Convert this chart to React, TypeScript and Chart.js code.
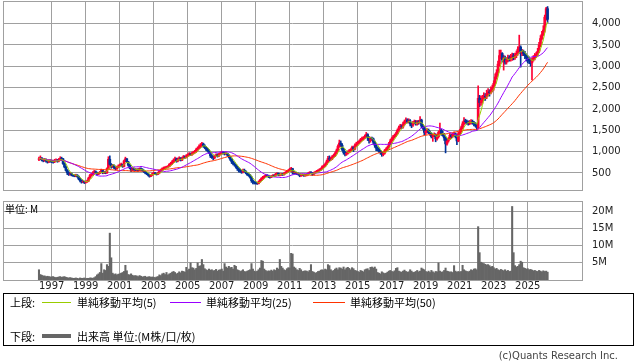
import { useEffect, useRef } from "react";
import { Chart, registerables } from "chart.js";

Chart.register(...registerables);

// Monthly candles, first month = April 1996 (months counted from Jan 1996)
const FIRST_MONTH_INDEX = 3;
const FIRST_OPEN = 820;

const closes = [
  830, 850, 800, 790, 810, 780, 760, 790, 780,
  770, 760, 790, 800, 780, 810, 840, 830, 720, 640, 560, 500,
  470, 480, 450, 440, 430, 450, 420, 360, 320, 290, 300, 280,
  290, 310, 380, 440, 460, 500, 530, 510, 470, 490, 520, 560,
  500, 520, 500, 600, 820, 700, 640, 680, 620, 600, 640, 660,
  680, 700, 650, 780, 830, 760, 680, 620, 560, 600, 580, 570,
  580, 560, 600, 580, 560, 530, 500, 480, 450, 420, 450, 480,
  500, 480, 470, 500, 540, 570, 600, 610, 630, 640, 650, 700,
  720, 760, 800, 830, 780, 820, 850, 800, 840, 880, 860, 900,
  920, 950, 930, 960, 980, 1000, 1050, 1080, 1120, 1150, 1180, 1130,
  1100, 1050, 1020, 980, 900, 880, 860, 900, 920, 900, 940, 960,
  980, 970, 950, 960, 920, 880, 820, 760, 720, 690, 640, 600,
  560, 540, 520, 560, 540, 500, 460, 450, 400, 320, 280, 270,
  260, 250, 290, 330, 370, 400, 420, 440, 430, 410, 400, 420,
  440, 430, 470, 490, 450, 460, 470, 460, 490, 510, 540, 560,
  590, 600, 520, 500, 490, 480, 470, 440, 450, 460, 440, 450,
  460, 490, 510, 500, 470, 500, 520, 540, 560, 570, 600, 650,
  660, 700, 760, 840, 820, 830, 880, 900, 960, 1020, 1120, 1200,
  1150, 1050, 980, 940, 960, 990, 1020, 1040, 1100, 1060, 1150, 1180,
  1200, 1240, 1280, 1300, 1320, 1360, 1400, 1320, 1260, 1310, 1300, 1220,
  1150, 1080, 1060, 1000, 980, 930, 960, 1020, 1060, 1100, 1180, 1250,
  1300, 1350, 1380, 1420, 1500, 1560, 1600, 1580, 1650, 1700, 1740, 1700,
  1720, 1650, 1620, 1680, 1700, 1650, 1700, 1680, 1740, 1600, 1560, 1450,
  1480, 1500, 1450, 1420, 1350, 1380, 1400, 1300, 1350, 1450, 1500, 1420,
  1400, 1320, 1180, 1250, 1300, 1380, 1350, 1400, 1420, 1350, 1250, 1420,
  1480, 1560, 1650, 1720, 1700, 1680, 1660, 1690, 1700, 1680, 1650, 1620,
  1560, 2250, 2150, 2200, 2250, 2300, 2280, 2350, 2400, 2380, 2450, 2500,
  2600, 2750, 2850, 3050, 3250, 3300, 3150, 3200, 3100, 3150, 3200, 3180,
  3200, 3250, 3200, 3250, 3300, 3400, 3450, 3300, 3350, 3300, 3250, 3200,
  3150, 3120, 3080, 3150, 3200, 3250, 3280, 3350, 3500, 3650, 3750, 3850,
  4150, 4350, 4100,
];

const highs = [
  870, 900, 860, 830, 840, 830, 800, 810, 810,
  800, 790, 820, 830, 820, 840, 880, 870, 840, 740, 660, 580,
  530, 510, 500, 470, 460, 470, 460, 430, 380, 340, 320, 310,
  310, 330, 400, 470, 490, 530, 560, 550, 520, 510, 540, 590,
  570, 540, 540, 620, 880, 900, 720, 700, 690, 640, 660, 690,
  710, 730, 710, 800, 870, 840, 770, 700, 640, 620, 620, 600,
  600, 600, 620, 620, 600, 570, 540, 510, 490, 460, 470, 500,
  520, 510, 490, 520, 560, 590, 620, 640, 650, 660, 670, 720,
  750, 790, 830, 870, 850, 850, 880, 860, 870, 910, 900, 930,
  950, 980, 970, 990, 1010, 1030, 1080, 1110, 1160, 1190, 1220, 1200,
  1160, 1120, 1080, 1050, 1000, 930, 900, 920, 950, 950, 960, 990,
  1010, 1000, 990, 990, 970, 930, 890, 830, 780, 740, 700, 660,
  620, 590, 560, 590, 590, 550, 510, 480, 470, 420, 340, 300,
  290, 280, 310, 350, 390, 420, 440, 470, 460, 450, 430, 440,
  460, 460, 490, 510, 500, 480, 490, 490, 510, 530, 560, 580,
  610, 630, 610, 540, 520, 510, 500, 480, 470, 480, 470, 470,
  480, 510, 530, 530, 510, 520, 540, 560, 580, 600, 620, 670,
  690, 730, 800, 890, 900, 870, 910, 940, 990, 1060, 1160, 1270,
  1250, 1190, 1080, 1010, 990, 1020, 1050, 1070, 1130, 1120, 1180, 1220,
  1240, 1270, 1310, 1340, 1350, 1390, 1450, 1420, 1350, 1340, 1340, 1320,
  1250, 1180, 1110, 1090, 1030, 1000, 990, 1050, 1090, 1130, 1220, 1290,
  1330, 1380, 1410, 1460, 1530, 1600, 1640, 1630, 1690, 1740, 1790, 1770,
  1770, 1750, 1680, 1710, 1740, 1730, 1730, 1730, 1820, 1760, 1640, 1590,
  1520, 1540, 1530, 1480, 1440, 1400, 1440, 1420, 1380, 1480, 1670, 1530,
  1480, 1430, 1350, 1280, 1330, 1420, 1410, 1430, 1460, 1440, 1370, 1450,
  1520, 1600, 1700, 1800, 1760, 1740, 1720, 1730, 1750, 1740, 1710, 1680,
  1650, 2540, 2320, 2300, 2320, 2380, 2360, 2440, 2480, 2450, 2520, 2560,
  2660, 2820, 2920, 3120, 3380, 3380, 3320, 3260, 3240, 3200, 3260, 3250,
  3280, 3310, 3300, 3310, 3360, 3460, 3730, 3480, 3400, 3380, 3350, 3290,
  3250, 3220, 3180, 3200, 3250, 3300, 3330, 3420, 3560, 3720, 3820, 3950,
  4200, 4380, 4400,
];

const lows = [
  790, 810, 780, 760, 770, 750, 730, 740, 750,
  740, 730, 740, 770, 750, 760, 790, 790, 700, 620, 540, 460,
  440, 450, 430, 420, 410, 410, 400, 340, 290, 260, 270, 250,
  260, 280, 300, 370, 420, 450, 490, 490, 450, 460, 480, 510,
  480, 480, 480, 490, 590, 680, 610, 630, 600, 570, 580, 620,
  640, 660, 630, 640, 760, 740, 660, 600, 530, 550, 560, 550,
  550, 540, 550, 560, 540, 510, 480, 460, 430, 400, 410, 440,
  470, 460, 450, 460, 490, 530, 560, 580, 590, 610, 620, 640,
  680, 700, 740, 780, 750, 760, 800, 780, 790, 830, 840, 850,
  880, 900, 910, 910, 940, 960, 980, 1030, 1060, 1090, 1120, 1100,
  1070, 1020, 990, 950, 860, 840, 810, 830, 880, 870, 880, 920,
  940, 940, 920, 930, 890, 850, 790, 720, 690, 660, 610, 560,
  520, 510, 490, 500, 520, 480, 440, 420, 380, 280, 240, 240,
  240, 230, 240, 280, 320, 360, 380, 410, 410, 390, 380, 390,
  410, 410, 420, 460, 430, 430, 440, 440, 450, 480, 500, 520,
  550, 570, 470, 480, 470, 460, 450, 410, 420, 430, 420, 420,
  430, 450, 480, 480, 440, 460, 490, 510, 530, 540, 560, 590,
  620, 640, 690, 740, 780, 790, 810, 860, 880, 940, 1000, 1100,
  1120, 1020, 940, 900, 910, 940, 970, 990, 1020, 1000, 1040, 1120,
  1150, 1180, 1220, 1250, 1270, 1300, 1340, 1260, 1200, 1220, 1260, 1180,
  1100, 1020, 1020, 980, 940, 890, 900, 940, 990, 1030, 1080, 1160,
  1220, 1270, 1320, 1350, 1400, 1480, 1530, 1540, 1550, 1620, 1680, 1670,
  1670, 1600, 1560, 1590, 1650, 1620, 1620, 1640, 1660, 1560, 1520, 1390,
  1400, 1440, 1420, 1380, 1320, 1240, 1350, 1230, 1270, 1320, 1420, 1380,
  1360, 1260, 970, 1150, 1220, 1280, 1310, 1330, 1370, 1320, 1160, 1230,
  1380, 1450, 1530, 1620, 1660, 1640, 1620, 1630, 1650, 1640, 1600, 1580,
  1500, 1540, 2050, 2080, 2130, 2200, 2200, 2240, 2300, 2300, 2350, 2400,
  2440, 2560, 2700, 2800, 3000, 3180, 3100, 2910, 3050, 3050, 3100, 3120,
  3120, 3140, 3150, 3160, 3200, 3260, 3350, 2980, 3250, 3250, 3180, 3120,
  3080, 3060, 3000, 2680, 3120, 3150, 3200, 3240, 3320, 3460, 3620, 3720,
  3800, 4080, 4020,
];

// Monthly volume, millions of shares
const volumes = [
  3.0, 1.6, 1.4, 1.2, 1.2, 1.0, 1.1, 1.0, 0.9,
  0.9, 1.0, 0.8, 0.7, 0.8, 0.9, 1.0, 0.8, 0.9, 1.0, 0.8, 0.7,
  0.6, 0.7, 0.6, 0.5, 0.5, 0.6, 0.5, 0.4, 0.6, 0.5, 0.5, 0.6,
  0.4, 0.5, 0.5, 0.6, 0.6, 0.5, 0.7, 1.0, 1.5, 1.8, 2.2, 4.8,
  2.0, 3.0, 2.8, 4.5, 4.0, 13.7, 6.5, 2.0, 1.6, 1.8, 1.5, 1.7,
  1.8, 2.0, 2.2, 2.5, 4.3, 2.7, 1.6, 1.5, 1.8, 1.4, 1.2, 1.3,
  1.2, 1.0, 1.3, 1.1, 0.9, 1.0, 1.1, 0.8, 0.9, 1.0, 0.8, 0.9,
  0.8, 0.7, 0.9, 1.0, 1.5, 1.3, 1.8, 2.0, 1.6, 2.2, 1.5, 1.8,
  2.0, 2.3, 2.5, 2.2, 1.8, 2.0, 2.4, 2.1, 2.6, 2.5, 2.3, 3.7,
  2.8, 3.2, 5.0, 3.6, 3.5, 3.0, 3.4, 5.0, 4.0, 4.2, 6.0, 4.5,
  3.3, 3.0, 2.8, 3.2, 2.9, 3.0, 2.7, 2.8, 3.1, 2.6, 2.9, 3.0,
  3.2, 2.6, 4.8, 3.8, 3.5, 4.0, 3.6, 3.7, 3.2, 4.3, 4.0, 3.0,
  2.8, 2.5, 2.7, 3.0, 2.5, 2.4, 2.6, 2.8, 3.0, 4.8, 3.2, 2.6,
  2.4, 2.6, 3.0, 3.5, 5.7, 5.5, 3.2, 2.8, 2.5, 2.7, 2.6, 2.9,
  2.6, 3.0, 2.8, 3.5, 3.2, 6.0, 4.0, 3.5, 3.0, 2.8, 3.3, 3.6,
  3.5, 7.8, 7.6, 3.8, 3.5, 3.0, 2.8, 3.4, 3.0, 2.5, 2.6, 2.7,
  2.6, 2.4, 2.8, 4.5, 2.5, 2.3, 2.0, 2.2, 2.5, 2.6, 2.9, 3.0,
  2.8, 3.2, 3.0, 4.5, 4.2, 3.0, 2.6, 2.8, 3.2, 3.5, 3.0, 3.6,
  3.5, 3.2, 3.8, 3.0, 3.5, 3.7, 3.4, 3.0, 3.6, 3.3, 2.8, 2.7,
  2.5, 2.3, 2.8, 2.6, 2.4, 3.0, 3.2, 3.3, 2.8, 3.7, 3.8, 3.5,
  3.8, 3.2, 2.2, 2.0, 1.8, 2.4, 2.1, 1.9, 2.0, 2.3, 2.6, 2.8,
  2.5, 2.4, 2.7, 3.4, 3.6, 2.6, 2.4, 2.3, 2.6, 2.9, 2.5, 2.3,
  2.4, 3.0, 2.6, 2.2, 2.3, 2.5, 2.8, 2.4, 2.6, 3.5, 3.2, 3.0,
  2.5, 2.3, 2.6, 2.2, 2.8, 2.4, 2.1, 2.5, 2.4, 5.0, 2.6, 2.3,
  2.4, 2.8, 3.5, 2.6, 2.5, 2.3, 2.4, 2.2, 4.2, 2.6, 2.3, 2.5,
  2.3, 2.5, 4.3, 3.0, 2.7, 2.5, 2.4, 2.6, 3.0, 2.8, 3.2, 3.3,
  3.0, 15.6, 8.0, 5.2, 5.0, 4.8, 4.6, 4.4, 4.5, 4.2, 3.8, 4.0,
  3.6, 3.2, 3.4, 3.0, 2.8, 3.1, 2.9, 2.7, 3.0, 2.6, 2.8, 2.5,
  2.6, 21.5, 8.0, 4.2, 3.8, 4.0, 4.5, 5.5, 5.2, 3.6, 3.4, 3.2,
  3.3, 3.0, 3.1, 2.9, 2.7, 2.8, 2.6, 2.5, 2.8, 2.6, 2.4, 2.7,
  2.5, 2.6, 2.3,
];

const yearTicks = [1997, 1999, 2001, 2003, 2005, 2007, 2009, 2011, 2013, 2015, 2017, 2019, 2021, 2023, 2025];
const priceTicks = [500, 1000, 1500, 2000, 2500, 3000, 3500, 4000];
const volumeTicks = [5, 10, 15, 20];

const UP = "#ff0033";
const DOWN = "#003399";
const GRID = "#a0a0a0";
const TICK_FONT = { family: "'DejaVu Sans', Verdana, sans-serif", size: 10 };
const X_MIN = -22.4;
const X_MAX = 386.3;

function sma(vals: number[], n: number): number[] {
  return vals.map((_, i) => {
    const s = Math.max(0, i - n + 1);
    let t = 0;
    for (let j = s; j <= i; j++) t += vals[j];
    return t / (i - s + 1);
  });
}

const framePlugin = {
  id: "frame",
  beforeDatasetsDraw(chart: any) {
    const { ctx, chartArea: a } = chart;
    ctx.save();
    ctx.strokeStyle = GRID;
    ctx.lineWidth = 1;
    ctx.strokeRect(Math.round(a.left) + 0.5, Math.round(a.top) + 0.5, Math.round(a.right - a.left), Math.round(a.bottom - a.top));
    ctx.restore();
  },
};

const noPad = (s: any) => {
  s.paddingTop = 0;
  s.paddingBottom = 0;
  s.paddingLeft = 0;
  s.paddingRight = 0;
};

export default function App() {
  const mainRef = useRef<HTMLCanvasElement>(null);
  const volRef = useRef<HTMLCanvasElement>(null);

  useEffect(() => {
    const xs = closes.map((_, i) => FIRST_MONTH_INDEX + i);
    const opens = closes.map((_, i) => (i === 0 ? FIRST_OPEN : closes[i - 1]));
    const colors = closes.map((c, i) => (c >= opens[i] ? UP : DOWN));
    const bodies = closes.map((c, i) => ({ x: xs[i], y: [opens[i], c] }));
    const wicks = closes.map((_, i) => ({ x: xs[i], y: [lows[i], highs[i]] }));
    const line = (vals: number[]) => vals.map((v, i) => ({ x: xs[i], y: v }));
    const tickVals = yearTicks.map((y) => (y - 1996) * 12);

    const xScale = (showLabels: boolean) => ({
      type: "linear",
      min: X_MIN,
      max: X_MAX,
      offset: false,
      afterBuildTicks: (s: any) => {
        s.ticks = tickVals.map((v) => ({ value: v }));
      },
      afterFit: (s: any) => {
        s.height = showLabels ? 20 : 0;
        noPad(s);
      },
      ticks: {
        display: showLabels,
        autoSkip: false,
        maxRotation: 0,
        padding: 0,
        color: "#222",
        font: TICK_FONT,
        callback: (v: number) => String(1996 + v / 12),
      },
      grid: { color: GRID, drawTicks: false, offset: false },
      border: { display: false },
    });

    const yScale = (min: number, max: number, ticks: number[], fmt: (v: number) => string) => ({
      position: "right",
      min,
      max,
      afterBuildTicks: (s: any) => {
        s.ticks = ticks.map((v) => ({ value: v }));
      },
      afterFit: (s: any) => {
        s.width = 56;
        noPad(s);
      },
      ticks: { padding: 10, color: "#222", font: TICK_FONT, callback: fmt },
      grid: { color: GRID, drawTicks: false },
      border: { display: false },
    });

    const main = new Chart(mainRef.current!, {
      type: "bar",
      data: {
        datasets: [
          { type: "line", data: line(sma(closes, 5)), borderColor: "#99cc00", borderWidth: 1, pointRadius: 0, tension: 0, order: 0 },
          { type: "line", data: line(sma(closes, 25)), borderColor: "#9900ff", borderWidth: 1, pointRadius: 0, tension: 0, order: 0 },
          { type: "line", data: line(sma(closes, 50)), borderColor: "#ff3300", borderWidth: 1, pointRadius: 0, tension: 0, order: 0 },
          { type: "bar", data: bodies, backgroundColor: colors, barThickness: 2, grouped: false, borderWidth: 0, order: 1 },
          { type: "bar", data: wicks, backgroundColor: colors, barThickness: 1, grouped: false, borderWidth: 0, order: 2 },
        ] as any,
      },
      options: {
        animation: false,
        responsive: false,
        maintainAspectRatio: false,
        devicePixelRatio: 1,
        layout: { padding: { left: 3, top: 1, right: 0, bottom: 5 } },
        plugins: { legend: { display: false }, tooltip: { enabled: false } },
        events: [],
        scales: {
          x: xScale(false) as any,
          y: yScale(100, 4530, priceTicks, (v: number) => v.toLocaleString("en-US")) as any,
        },
      },
      plugins: [framePlugin],
    });

    const vol = new Chart(volRef.current!, {
      type: "bar",
      data: {
        datasets: [
          {
            data: volumes.map((v, i) => ({ x: xs[i], y: v })),
            backgroundColor: "#666666",
            barPercentage: 1,
            categoryPercentage: 1,
            borderWidth: 0,
          },
        ] as any,
      },
      options: {
        animation: false,
        responsive: false,
        maintainAspectRatio: false,
        devicePixelRatio: 1,
        layout: { padding: { left: 3, top: 6, right: 0, bottom: 0 } },
        plugins: { legend: { display: false }, tooltip: { enabled: false } },
        events: [],
        scales: {
          x: xScale(true) as any,
          y: yScale(0, 23.1, volumeTicks, (v: number) => `${v}M`) as any,
        },
      },
      plugins: [framePlugin],
    });

    return () => {
      main.destroy();
      vol.destroy();
    };
  }, []);

  const jp = "'Noto Sans CJK JP', sans-serif";
  const txt = (left: number, top: number, s: string) => (
    <span style={{ position: "absolute", left, top, fontFamily: jp, fontSize: 11, lineHeight: "14px", color: "#000", whiteSpace: "nowrap" }}>{s}</span>
  );
  const ln = (left: number, width: number, top: number, h: number, color: string) => (
    <div style={{ position: "absolute", left, width, top, height: h, background: color }} />
  );

  return (
    <div style={{ position: "fixed", left: 0, top: 0, width: 638, height: 362, background: "#fff", overflow: "hidden" }}>
      <canvas ref={mainRef} width={638} height={195} style={{ position: "absolute", left: 0, top: 0, width: 638, height: 195 }} />
      <canvas ref={volRef} width={638} height={105} style={{ position: "absolute", left: 0, top: 195, width: 638, height: 105 }} />
      <span style={{ position: "absolute", left: 5, top: 203, fontFamily: jp, fontSize: 10, lineHeight: "12px", color: "#000", whiteSpace: "nowrap" }}>単位: M</span>
      <div style={{ position: "absolute", left: 3, top: 293, width: 629, height: 51, border: "1px solid #000" }} />
      {txt(10, 295, "上段:")}
      {ln(42, 29, 302, 1, "#99cc00")}
      {txt(77, 295, "単純移動平均(5)")}
      {ln(170, 31, 302, 1, "#9900ff")}
      {txt(206, 295, "単純移動平均(25)")}
      {ln(313, 32, 302, 1, "#ff3300")}
      {txt(350, 295, "単純移動平均(50)")}
      {txt(10, 329, "下段:")}
      {ln(42, 29, 334, 4, "#666666")}
      {txt(77, 329, "出来高 単位:(M株/口/枚)")}
      <span style={{ position: "absolute", right: 20, top: 349, fontFamily: "'DejaVu Sans', sans-serif", fontSize: 10, lineHeight: "13px", color: "#444", whiteSpace: "nowrap" }}>(c)Quants Research Inc.</span>
    </div>
  );
}
